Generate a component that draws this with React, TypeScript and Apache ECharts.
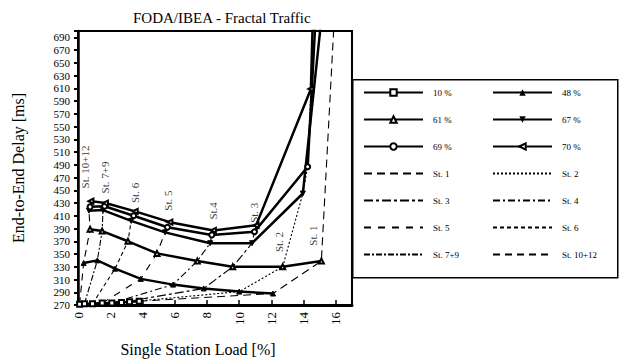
import React, { useEffect, useRef } from 'react';
import * as echarts from 'echarts';

// Loads (total network load) – solid curves
const loadNames = ['10 %', '48 %', '61 %', '67 %', '69 %', '70 %'];
// Stations, ordered left to right along each curve
const stationNames = ['St. 10+12', 'St. 7+9', 'St. 6', 'St. 5', 'St. 4', 'St. 3', 'St. 2', 'St. 1'];
const stationAnnotations = ['St. 10+12', 'St. 7+9', 'St. 6', 'St. 5', 'St.4', 'St. 3', 'St. 2', 'St. 1'];

// [single station load %, end-to-end delay ms] per station, per load
const load10 = [[0.1, 271], [0.4, 272], [0.9, 272], [1.5, 273], [2.1, 273], [2.7, 274], [3.2, 275], [3.8, 276]];
const load48 = [[0.35, 336], [1.2, 340], [2.3, 327], [3.9, 311], [5.9, 302], [7.8, 296], [10.0, 291], [12.1, 288]];
const load61 = [[0.75, 389], [1.5, 386], [3.1, 370], [4.9, 351], [7.4, 339], [9.6, 330], [12.7, 330], [15.1, 339]];
const load67 = [[0.68, 418], [1.55, 419], [3.3, 402], [5.4, 384], [8.2, 367], [10.8, 367], [13.95, 445], [16.7, 1100]];
const load69 = [[0.75, 424], [1.65, 425], [3.45, 410], [5.55, 392], [8.3, 380], [10.95, 385], [14.25, 487], [16.8, 1700]];
const load70 = [[0.8, 433], [1.7, 430], [3.55, 417], [5.7, 400], [8.4, 387], [11.05, 395], [14.45, 609], [17.0, 3000]];
const loadData = [load10, load48, load61, load67, load69, load70];

// annotation anchors for station labels (data coords)
const stationLabelAnchors = [[0.42, 453], [1.7, 445], [3.55, 430], [5.6, 418], [8.4, 404], [10.9, 399], [12.5, 353], [14.6, 363]];

const xTickLabels = [0, 2, 4, 6, 8, 10, 12, 14, 16];
const yTickLabels = [270, 290, 310, 330, 350, 370, 390, 410, 430, 450, 470, 490, 510, 530, 550, 570, 590, 610, 630, 650, 670, 690];

const legendCol1 = ['10 %', '61 %', '69 %', 'St. 1', 'St. 3', 'St. 5', 'St. 7+9'];
const legendCol2 = ['48 %', '67 %', '70 %', 'St. 2', 'St. 4', 'St. 6', 'St. 10+12'];

const loadSymbols = ['emptyRect', 'triangle', 'emptyTriangle', 'triangle', 'emptyCircle', 'emptyTriangle'];
const loadSymbolRotate = [0, 0, 0, 180, 0, 90];
const stationDash: any[] = [[7, 5], [6, 2, 2, 2], [4, 3], [7, 7], [7, 3, 2, 3], [9, 3, 3, 3], [2, 2], [8, 5]];

const SERIF = '"Liberation Serif", "DejaVu Serif", serif';

export default function App() {
  const ref = useRef<HTMLDivElement>(null);
  useEffect(() => {
    if (!ref.current) return;
    const chart = echarts.init(ref.current, null, { renderer: 'svg' });

    const stationSeries = stationNames.map((name, i) => ({
      type: 'line',
      name,
      data: loadData.map((ld) => ld[i]),
      symbol: 'none',
      lineStyle: { color: '#000', width: 1.1, type: stationDash[i] },
      itemStyle: { color: '#000' },
      z: 2,
      silent: true,
    }));

    const loadSeries = loadNames.map((name, i) => ({
      type: 'line',
      name,
      data: loadData[i],
      symbol: loadSymbols[i],
      symbolRotate: loadSymbolRotate[i],
      symbolSize: 5,
      lineStyle: { color: '#000', width: 2.5 },
      itemStyle: { color: '#000', borderColor: '#000' },
      z: 3,
      silent: true,
    }));

    const toLegendItems = (names: string[]) =>
      names.map((n) => (stationNames.includes(n) ? { name: n, itemStyle: { opacity: 0 } } : { name: n }));

    const legendCommon = {
      orient: 'vertical',
      top: 88,
      itemWidth: 59,
      itemHeight: 8,
      itemGap: 18,
      padding: 0,
      selectedMode: false,
      textStyle: { fontFamily: SERIF, fontSize: 9, color: '#000', padding: [0, 0, 0, 5] },
      z: 5,
    };

    chart.setOption({
      animation: false,
      backgroundColor: '#fff',
      title: {
        text: 'FODA/IBEA - Fractal Traffic',
        left: 128,
        top: 5,
        textStyle: { fontFamily: SERIF, fontSize: 15, fontWeight: 'normal', color: '#000' },
      },
      grid: {
        left: 78,
        right: 274,
        top: 31,
        bottom: 54,
        show: true,
        borderColor: '#000',
        borderWidth: 2,
        backgroundColor: 'transparent',
      },
      legend: [
        { ...legendCommon, left: 363, data: toLegendItems(legendCol1) },
        { ...legendCommon, left: 492, data: toLegendItems(legendCol2) },
      ],
      graphic: [
        {
          type: 'rect',
          left: 352,
          top: 79,
          shape: { x: 0, y: 0, width: 265, height: 198 },
          style: { fill: '#fff', stroke: '#000', lineWidth: 1.5 },
          z: 1,
        },
      ],
      xAxis: {
        type: 'value',
        min: 0,
        max: 17,
        interval: 2,
        name: 'Single Station Load [%]',
        nameLocation: 'middle',
        nameGap: 36,
        nameTextStyle: { fontFamily: SERIF, fontSize: 16, color: '#000', padding: [0, 34, 0, 0] },
        axisLine: { onZero: false, lineStyle: { color: '#000', width: 3 } },
        axisTick: { inside: true, length: 5, lineStyle: { color: '#000', width: 1.5 } },
        axisLabel: {
          rotate: 90,
          margin: 7,
          fontFamily: SERIF,
          fontSize: 13,
          color: '#000',
          formatter: (v: number) => (xTickLabels.includes(v) ? String(v) : ''),
        },
        splitLine: { show: false },
      },
      yAxis: {
        type: 'value',
        min: 270,
        max: 700,
        interval: 20,
        name: 'End-to-End Delay [ms]',
        nameLocation: 'middle',
        nameGap: 52,
        nameTextStyle: { fontFamily: SERIF, fontSize: 16, color: '#000' },
        axisLine: { onZero: false, lineStyle: { color: '#000', width: 2.5 } },
        axisTick: { inside: false, length: 4, lineStyle: { color: '#000', width: 2 } },
        axisLabel: {
          margin: 8,
          fontFamily: SERIF,
          fontSize: 11,
          color: '#000',
          formatter: (v: number) => (yTickLabels.includes(v) ? String(v) : ''),
        },
        splitLine: { show: false },
      },
      series: [
        ...stationSeries,
        ...loadSeries,
        {
          type: 'scatter',
          name: 'station-labels',
          data: stationLabelAnchors,
          symbolSize: 1,
          itemStyle: { color: 'rgba(0,0,0,0)' },
          silent: true,
          z: 6,
          label: {
            show: true,
            position: 'inside',
            rotate: 90,
            align: 'left',
            verticalAlign: 'middle',
            fontFamily: SERIF,
            fontSize: 11,
            color: '#000',
            formatter: (p: any) => stationAnnotations[p.dataIndex],
          },
        },
      ],
    });

    return () => chart.dispose();
  }, []);

  return (
    <div
      ref={ref}
      style={{ position: 'fixed', left: 0, top: 0, width: 626, height: 362 }}
    />
  );
}
